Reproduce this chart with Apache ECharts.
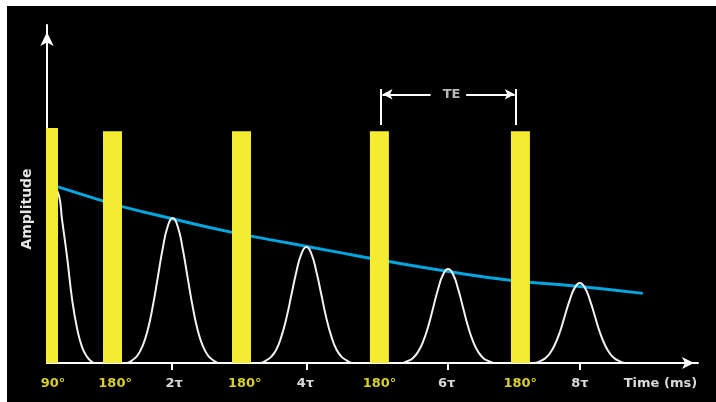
<!DOCTYPE html>
<html>
<head>
<meta charset="utf-8">
<script src="https://cdn.jsdelivr.net/npm/echarts@6/dist/echarts.min.js"></script>
<style>
html,body{margin:0;padding:0;background:#ffffff;width:716px;height:402px;overflow:hidden;}
#c{position:absolute;left:7px;top:6px;width:709px;height:396px;}
</style>
</head>
<body>
<div id="c"></div>
<script>
// ---- data (x in time units along the axis, y in amplitude units) ----
const pulse90 = [[1.0, 69.5]];
const pulse180 = [[13.08, 68.6], [38.84, 68.6], [66.38, 68.6], [94.54, 68.6]];

const fid = [[1.5, 52.0], [2.4, 49.5], [3.0, 42.5], [4.0, 31.5], [5.0, 19.0], [6.0, 10.3], [7.0, 4.7],
             [8.0, 1.8], [9.0, 0.3], [9.6, 0]];

const echo2 = [[16.1,0],[17.1,0.9],[18.1,2.3],[19.1,5.1],[20.1,9.7],[21.1,16.6],[22.1,25.1],[23.1,33.8],[24.1,40.4],
               [25.1,42.9],[26.1,40.4],[27.1,33.8],[28.1,25.1],[29.1,16.6],[30.1,9.7],[31.1,5.1],[32.1,2.3],[33.1,0.9],[34.1,0]];
const echo4 = [[42.8,0],[43.8,0.8],[44.8,1.9],[45.8,4.0],[46.8,7.8],[47.8,13.2],[48.8,20.1],[49.8,27.0],[50.8,32.3],
               [51.8,34.3],[52.8,32.3],[53.8,27.0],[54.8,20.1],[55.8,13.2],[56.8,7.8],[57.8,4.0],[58.8,1.9],[59.8,0.8],[60.8,0]];
const echo6 = [[71.1,0],[72.1,0.6],[73.1,1.5],[74.1,3.3],[75.1,6.3],[76.1,10.7],[77.1,16.3],[78.1,21.9],[79.1,26.2],
               [80.1,27.8],[81.1,26.2],[82.1,21.9],[83.1,16.3],[84.1,10.7],[85.1,6.3],[86.1,3.3],[87.1,1.5],[88.1,0.6],[89.1,0]];
const echo8 = [[97.4,0],[98.4,0.5],[99.4,1.3],[100.4,2.8],[101.4,5.4],[102.4,9.1],[103.4,13.9],[104.4,18.7],[105.4,22.3],
               [106.4,23.7],[107.4,22.3],[108.4,18.7],[109.4,13.9],[110.4,9.1],[111.4,5.4],[112.4,2.8],[113.4,1.3],[114.4,0.5],[115.4,0]];

const t2decay = [[2.2,52.1],[10.6,48.2],[15.2,46.2],[25.0,42.7],[36.5,38.8],[48.5,35.4],[58.0,32.8],[64.5,31.0],
                 [80.5,27.0],[92.5,24.5],[106.4,22.6],[119.0,20.6]];

const tauTicks = [25.0, 51.9, 80.0, 106.4];
const labelPositions = [1.2, 13.6, 25.4, 39.5, 51.6, 66.4, 79.8, 94.5, 106.4, 122.5];
const labelTexts = ['90°', '180°', '2τ', '180°', '4τ', '180°', '6τ', '180°', '8τ', 'Time (ms)'];
const labelKinds = ['p', 'p', 't', 'p', 't', 'p', 't', 'p', 't', 't'];

const teBracketX = [66.6, 93.6];
const teBracketY = [81.1, 70.4];
const teLineY = 79.5;
const teArrowInner = [76.6, 83.7];
const teArrowOuter = [67.0, 93.4];
const teLabelPos = [[80.8, 79.5]];
const teText = 'TE';

// ---- chart ----
const FONT = 'DejaVu Sans';
const chart = echarts.init(document.getElementById('c'), null, {renderer: 'canvas'});

function labelFor(v) {
  let best = 0, bd = Infinity;
  labelPositions.forEach((p, i) => { const d = Math.abs(p - v); if (d < bd) { bd = d; best = i; } });
  return '{' + labelKinds[best] + '|' + labelTexts[best] + '}';
}

const white = '#ffffff';
const signalStyle = {color: '#f2f2f2', width: 2};
function signalSeries(data, smooth) {
  return {type: 'line', data: data, xAxisIndex: 0, yAxisIndex: 0, showSymbol: false, symbol: 'none',
          smooth: smooth, lineStyle: signalStyle, z: 3, silent: true};
}

const option = {
  animation: false,
  backgroundColor: '#000000',
  grid: {left: 40, right: 18, top: 19, bottom: 39, containLabel: false},
  xAxis: [{
    type: 'value', min: 0, max: 130,
    axisLine: {show: true, lineStyle: {color: white, width: 2}, symbol: ['none', 'arrow'], symbolSize: [9, 12], symbolOffset: [0, -4]},
    axisTick: {show: true, customValues: tauTicks, length: 7, lineStyle: {color: white, width: 2}},
    axisLabel: {
      show: true, customValues: labelPositions, margin: 14, formatter: labelFor,
      rich: {
        p: {color: '#d8cf2c', fontFamily: FONT, fontWeight: 'bold', fontSize: 13},
        t: {color: '#d9d9d9', fontFamily: FONT, fontWeight: 'bold', fontSize: 13}
      }
    },
    splitLine: {show: false}
  }, {
    type: 'value', min: 0, max: 130, show: false
  }],
  yAxis: {
    type: 'value', min: 0, max: 100,
    axisLine: {show: true, lineStyle: {color: white, width: 2}, symbol: ['none', 'arrow'], symbolSize: [10, 14], symbolOffset: [0, -7]},
    axisTick: {show: false}, axisLabel: {show: false}, splitLine: {show: false},
    name: 'Amplitude', nameLocation: 'middle', nameRotate: 90, nameGap: 13,
    nameTextStyle: {color: '#e6e6e6', fontFamily: FONT, fontWeight: 'bold', fontSize: 14, padding: [0, 30, 0, 0]}
  },
  series: [
    {
      type: 'line', data: t2decay, showSymbol: false, symbol: 'none', smooth: true,
      lineStyle: {color: '#00a6e0', width: 3}, z: 2, silent: true,
      markLine: {
        silent: true, symbol: 'none', label: {show: false},
        lineStyle: {color: white, width: 2, type: 'solid'},
        emphasis: {disabled: true},
        data: [
          [{coord: [teBracketX[0], teBracketY[0]]}, {coord: [teBracketX[0], teBracketY[1]]}],
          [{coord: [teBracketX[1], teBracketY[0]]}, {coord: [teBracketX[1], teBracketY[1]]}],
          [{coord: [teArrowInner[0], teLineY], symbol: 'none'}, {coord: [teArrowOuter[0], teLineY], symbol: 'arrow', symbolSize: [8, 10]}],
          [{coord: [teArrowInner[1], teLineY], symbol: 'none'}, {coord: [teArrowOuter[1], teLineY], symbol: 'arrow', symbolSize: [8, 10]}]
        ]
      }
    },
    signalSeries(fid, true),
    signalSeries(echo2, true),
    signalSeries(echo4, true),
    signalSeries(echo6, true),
    signalSeries(echo8, true),
    {type: 'bar', xAxisIndex: 1, yAxisIndex: 0, data: pulse90, barWidth: 12, itemStyle: {color: '#f5eb30'}, z: 5, silent: true},
    {type: 'bar', xAxisIndex: 0, yAxisIndex: 0, data: pulse180, barWidth: 19, itemStyle: {color: '#f5eb30'}, z: 5, silent: true},
    {
      type: 'scatter', data: teLabelPos, symbolSize: 0, silent: true, z: 6,
      label: {show: true, position: 'inside', formatter: teText, color: '#e6e6e6', fontFamily: FONT, fontWeight: 'bold', fontSize: 13}
    }
  ]
};
chart.setOption(option);
</script>
</body>
</html>
